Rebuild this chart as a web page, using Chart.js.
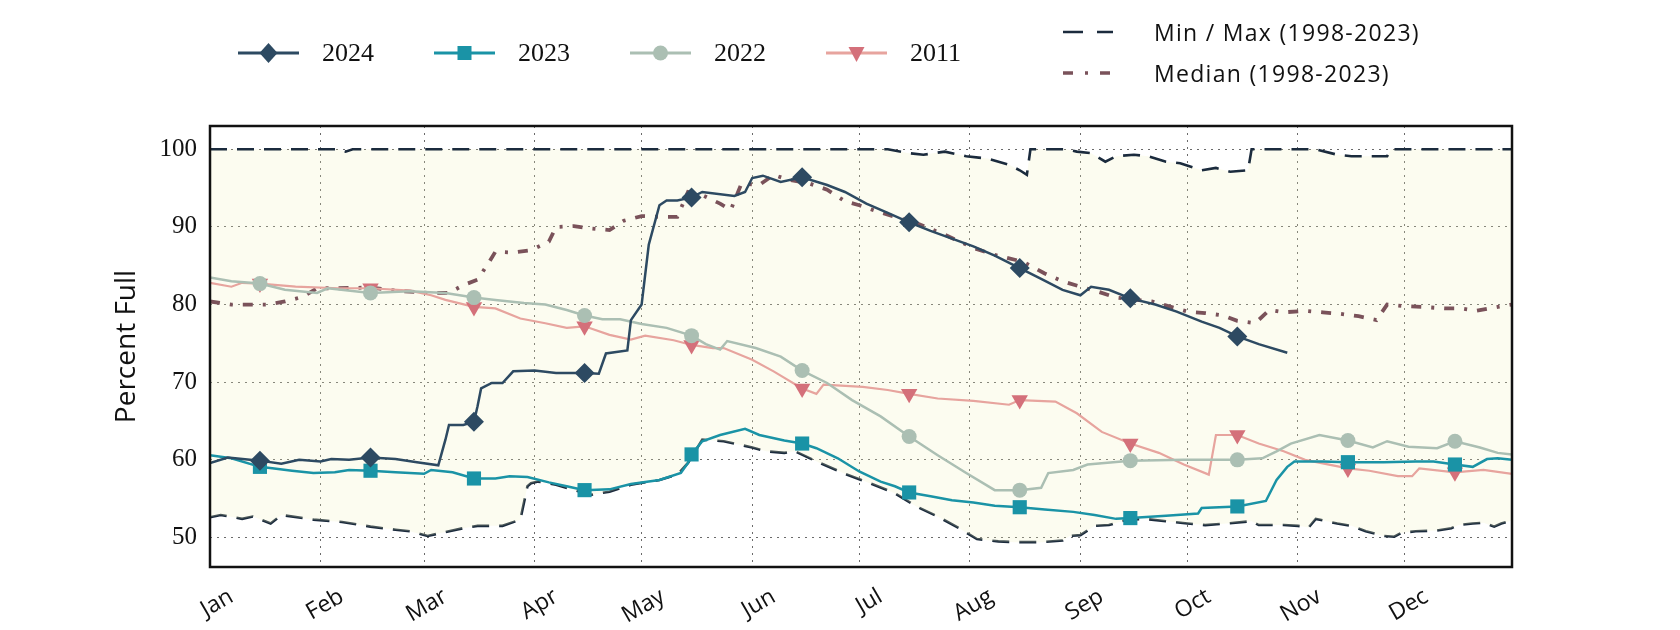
<!DOCTYPE html>
<html>
<head>
<meta charset="utf-8">
<title>Percent Full</title>
<script src="https://cdn.jsdelivr.net/npm/chart.js@4.4.1/dist/chart.umd.min.js"></script>
<style>
  html, body { margin: 0; padding: 0; background: #fff; }
  #wrap { position: relative; width: 1680px; height: 630px; overflow: hidden; }
  #chart { position: absolute; left: 0; top: 0; }
  .leg { position: absolute; display: flex; align-items: center; height: 30px; color: #111; white-space: nowrap; }
  .leg svg { display: block; flex: none; }
  .yr { font-family: "Liberation Serif", serif; font-size: 26px; margin-left: 23px; }
  .rng { font-family: "Open Sans", sans-serif; font-size: 23px; letter-spacing: 1.3px; margin-left: 41px; }
</style>
</head>
<body>
<div id="wrap">
  <canvas id="chart" width="1680" height="630"></canvas>
  <div id="legend"></div>
</div>
<script>
// x values are day of year (0 = Jan 1), y values are percent full
var monthNames = ['Jan', 'Feb', 'Mar', 'Apr', 'May', 'Jun', 'Jul', 'Aug', 'Sep', 'Oct', 'Nov', 'Dec'];
var monthStarts = [0, 31, 60, 91, 121, 152, 182, 213, 244, 274, 305, 335];
var yTicks = [50, 60, 70, 80, 90, 100];
var markerDays = [14, 45, 74, 105, 135, 166, 196, 227, 258, 288, 319, 349];

var days2024 = [0, 5, 14, 20, 25, 31, 34, 39, 45, 52, 58, 64, 66, 67, 71, 74, 75, 76, 79, 82, 85, 91, 97, 105, 109, 111, 117, 118, 121, 123, 126, 128, 131, 135, 138, 147, 150, 152, 155, 160, 166, 173, 178, 184, 190, 196, 202, 208, 214, 220, 227, 233, 239, 244, 247, 252, 258, 265, 271, 278, 283, 288, 294, 302];
var pct2024 = [59.6, 60.3, 59.9, 59.5, 60.0, 59.8, 60.1, 60.0, 60.3, 60.1, 59.7, 59.3, 62.6, 64.5, 64.5, 64.9, 66.9, 69.2, 69.9, 69.9, 71.4, 71.5, 71.2, 71.2, 71.1, 73.7, 74.1, 78.0, 80.0, 87.7, 92.8, 93.4, 93.4, 93.8, 94.5, 94.0, 94.5, 96.3, 96.6, 95.8, 96.4, 95.4, 94.5, 93.0, 91.8, 90.6, 89.5, 88.5, 87.5, 86.3, 84.7, 83.3, 81.9, 81.2, 82.3, 81.9, 80.8, 80.0, 79.1, 77.8, 77.0, 75.9, 74.9, 73.8];

var days2023 = [0, 6, 14, 18, 23, 29, 35, 39, 45, 52, 60, 62, 68, 74, 80, 84, 89, 95, 100, 105, 112, 118, 126, 132, 134, 135, 138, 143, 150, 154, 161, 166, 170, 176, 182, 188, 192, 196, 202, 208, 214, 220, 227, 234, 242, 248, 254, 258, 268, 277, 278, 288, 296, 299, 302, 304, 312, 319, 329, 338, 343, 349, 354, 358, 361, 365];
var pct2023 = [60.6, 60.2, 59.1, 58.9, 58.6, 58.3, 58.4, 58.7, 58.6, 58.4, 58.2, 58.7, 58.4, 57.6, 57.6, 57.9, 57.8, 57.1, 56.6, 56.1, 56.2, 56.9, 57.4, 58.3, 59.6, 60.7, 62.4, 63.2, 64.0, 63.2, 62.5, 62.1, 61.5, 60.2, 58.5, 57.2, 56.6, 55.8, 55.3, 54.8, 54.5, 54.1, 53.9, 53.6, 53.3, 52.9, 52.4, 52.5, 52.8, 53.1, 53.8, 54.0, 54.7, 57.4, 59.1, 59.8, 59.8, 59.7, 59.7, 59.8, 59.8, 59.4, 59.1, 60.1, 60.2, 60.0];

var days2022 = [0, 6, 14, 21, 30, 33, 45, 56, 66, 74, 80, 88, 94, 100, 105, 110, 115, 121, 128, 135, 139, 143, 145, 153, 160, 166, 173, 180, 188, 196, 204, 212, 220, 227, 233, 235, 242, 246, 258, 273, 288, 295, 299, 303, 311, 319, 326, 330, 336, 344, 349, 356, 361, 365];
var pct2022 = [83.5, 83.0, 82.7, 81.9, 81.5, 82.1, 81.5, 81.7, 81.5, 80.9, 80.6, 80.2, 80.0, 79.3, 78.6, 78.1, 78.1, 77.5, 77.0, 76.0, 74.9, 74.2, 75.3, 74.4, 73.3, 71.5, 69.9, 67.7, 65.6, 63.0, 60.6, 58.3, 56.1, 56.1, 56.4, 58.3, 58.7, 59.4, 59.9, 60.0, 60.0, 60.2, 61.1, 62.1, 63.2, 62.5, 61.6, 62.4, 61.7, 61.5, 62.4, 61.6, 60.9, 60.7];

var days2011 = [0, 6, 9, 14, 24, 36, 45, 56, 62, 66, 74, 80, 87, 94, 100, 105, 112, 118, 122, 130, 135, 141, 144, 152, 158, 166, 170, 172, 183, 190, 196, 204, 214, 224, 227, 237, 243, 250, 258, 266, 273, 280, 282, 288, 294, 301, 307, 319, 325, 333, 337, 339, 349, 357, 365];
var pct2011 = [82.8, 82.3, 82.8, 82.7, 82.3, 82.1, 82.1, 81.8, 81.2, 80.6, 79.7, 79.5, 78.2, 77.6, 77.0, 77.2, 76.1, 75.5, 76.0, 75.4, 74.8, 74.4, 74.4, 72.9, 71.4, 69.2, 68.5, 69.7, 69.4, 69.0, 68.5, 67.9, 67.6, 67.1, 67.7, 67.5, 66.0, 63.6, 62.1, 60.9, 59.4, 58.1, 63.2, 63.2, 62.1, 61.1, 60.0, 58.9, 58.6, 57.9, 57.9, 58.9, 58.4, 58.7, 58.2];

var daysMedian = [0, 6, 16, 21, 26, 30, 36, 45, 52, 61, 67, 71, 75, 78, 80, 85, 90, 95, 97, 102, 107, 112, 116, 121, 126, 131, 134, 138, 143, 146, 149, 154, 158, 162, 168, 173, 178, 182, 187, 192, 198, 206, 214, 220, 228, 234, 239, 244, 248, 254, 264, 274, 279, 284, 288, 293, 297, 301, 307, 312, 317, 322, 327, 330, 335, 340, 346, 351, 355, 361, 365];
var pctMedian = [80.4, 80.0, 80.0, 80.4, 81.0, 82.1, 82.1, 82.2, 81.8, 81.5, 81.5, 82.5, 83.2, 85.3, 86.8, 86.7, 87.0, 88.1, 90.0, 90.1, 89.8, 89.6, 90.8, 91.4, 91.3, 91.3, 94.5, 94.1, 93.0, 92.2, 95.6, 95.4, 96.7, 96.1, 95.6, 94.8, 93.3, 92.8, 92.0, 91.3, 90.5, 89.0, 87.3, 86.4, 85.5, 84.0, 83.0, 82.3, 81.8, 80.9, 80.4, 79.1, 78.9, 78.6, 77.9, 77.6, 79.3, 79.0, 79.2, 79.0, 78.8, 78.5, 78.0, 80.0, 79.8, 79.7, 79.5, 79.5, 79.2, 79.7, 80.0];

var daysMax = [0, 36, 38, 40, 190, 196, 200, 206, 212, 218, 224, 227, 229, 230, 240, 243, 247, 251, 254, 259, 263, 268, 272, 278, 282, 286, 291, 292, 310, 316, 320, 326, 330, 331, 365];
var pctMax = [100, 100, 99.7, 100, 100, 99.5, 99.3, 99.7, 99.1, 98.8, 98.0, 97.3, 96.7, 100, 100, 99.7, 99.5, 98.4, 99.1, 99.3, 99.1, 98.4, 98.2, 97.3, 97.6, 97.1, 97.3, 100, 100, 99.3, 99.1, 99.1, 99.1, 100, 100];

var daysMin = [0, 3, 9, 12, 17, 20, 29, 37, 45, 52, 56, 61, 65, 71, 75, 82, 87, 89, 90, 92, 97, 102, 107, 112, 118, 126, 131, 134, 138, 144, 152, 156, 161, 164, 171, 178, 185, 192, 198, 204, 210, 215, 221, 226, 233, 239, 241, 244, 248, 252, 257, 262, 268, 274, 279, 285, 292, 294, 301, 305, 308, 310, 316, 320, 324, 329, 332, 334, 338, 344, 348, 350, 354, 357, 360, 362, 365];
var pctMin = [52.6, 52.9, 52.4, 52.7, 51.8, 52.9, 52.3, 52.0, 51.4, 51.0, 50.8, 50.2, 50.6, 51.2, 51.5, 51.5, 52.3, 56.6, 57.0, 57.2, 56.8, 56.1, 55.5, 55.9, 56.8, 57.4, 58.1, 59.6, 62.6, 62.4, 61.6, 61.1, 60.9, 61.1, 59.6, 58.2, 57.0, 55.7, 54.0, 52.7, 51.2, 49.8, 49.5, 49.4, 49.4, 49.6, 50.2, 50.3, 51.5, 51.6, 52.3, 52.4, 52.1, 51.8, 51.6, 51.8, 52.1, 51.6, 51.6, 51.5, 51.3, 52.4, 51.8, 51.5, 50.8, 50.2, 50.1, 50.6, 50.8, 50.9, 51.2, 51.6, 51.8, 51.9, 51.4, 51.8, 52.2];

(function () {
  'use strict';

  var C2024 = '#2d4a62';
  var C2023 = '#1a93a6';
  var C2022 = '#abbfb3';
  var C2011 = '#d4707a';
  var C2011_LINE = '#e7a49e';
  var C_RANGE = '#1b2b3d';
  var C_MEDIAN = '#7a525a';
  var C_FILL = 'rgba(240, 240, 185, 0.22)';
  var GRID = '#6a6a6a';
  var LABEL_SHIFT = 6; // month labels sit centred under their tick

  function pts(days, vals) {
    return days.map(function (d, i) { return { x: d, y: vals[i] }; });
  }

  function markerAt(r) {
    return function (ctx) {
      return ctx.raw && markerDays.indexOf(ctx.raw.x) >= 0 ? r : 0;
    };
  }

  var years = [
    { label: '2024', days: days2024, vals: pct2024, line: C2024, mark: C2024, style: 'rectRot', r: 10, rot: 0, width: 2.5 },
    { label: '2023', days: days2023, vals: pct2023, line: C2023, mark: C2023, style: 'rect', r: 10, rot: 0, width: 2.5 },
    { label: '2022', days: days2022, vals: pct2022, line: C2022, mark: C2022, style: 'circle', r: 7.5, rot: 0, width: 2.5 },
    { label: '2011', days: days2011, vals: pct2011, line: C2011_LINE, mark: C2011, style: 'triangle', r: 9.5, rot: 180, width: 2.2 }
  ];

  var datasets = years.map(function (s) {
    return {
      label: s.label,
      data: pts(s.days, s.vals),
      xAxisID: 'x',
      borderColor: s.line,
      backgroundColor: s.mark,
      pointBackgroundColor: s.mark,
      borderWidth: s.width,
      pointStyle: s.style,
      pointRotation: s.rot,
      pointRadius: markerAt(s.r),
      pointBorderWidth: 0,
      fill: false
    };
  });

  datasets.push({
    label: 'Median (1998-2023)',
    data: pts(daysMedian, pctMedian),
    xAxisID: 'x',
    borderColor: C_MEDIAN,
    borderWidth: 3.8,
    borderDash: [10, 10, 3, 10],
    pointRadius: 0,
    fill: false
  });
  datasets.push({
    label: 'Max (1998-2023)',
    data: pts(daysMax, pctMax),
    xAxisID: 'x',
    borderColor: C_RANGE,
    backgroundColor: C_FILL,
    borderWidth: 2.6,
    borderDash: [17, 10],
    pointRadius: 0,
    fill: '+1'
  });
  datasets.push({
    label: 'Min (1998-2023)',
    data: pts(daysMin, pctMin),
    xAxisID: 'x',
    borderColor: C_RANGE,
    borderWidth: 2.6,
    borderDash: [17, 10],
    pointRadius: 0,
    fill: false
  });

  var frame = {
    id: 'frame',
    afterDraw: function (chart) {
      var a = chart.chartArea, ctx = chart.ctx;
      ctx.save();
      ctx.strokeStyle = '#111';
      ctx.lineWidth = 2.5;
      ctx.strokeRect(a.left, a.top, a.right - a.left, a.bottom - a.top);
      ctx.restore();
    }
  };

  new Chart(document.getElementById('chart'), {
    type: 'line',
    data: { datasets: datasets },
    plugins: [frame],
    options: {
      responsive: false,
      animation: false,
      devicePixelRatio: 1,
      events: [],
      layout: { padding: { top: 126, right: 168, left: 0, bottom: 0 } },
      elements: { line: { tension: 0 } },
      plugins: { legend: { display: false }, tooltip: { enabled: false } },
      scales: {
        x: {
          type: 'linear', min: 0, max: 365,
          afterBuildTicks: function (s) { s.ticks = monthStarts.map(function (v) { return { value: v }; }); },
          ticks: { display: false },
          grid: { color: GRID, lineWidth: 1, drawTicks: false },
          border: { display: false, dash: [2, 5] },
          afterFit: function (s) { s.height = 0; }
        },
        xl: {
          type: 'linear', position: 'bottom', min: 0, max: 365,
          afterBuildTicks: function (s) { s.ticks = monthStarts.map(function (v) { return { value: v + LABEL_SHIFT }; }); },
          grid: { display: false, drawTicks: false },
          border: { display: false },
          ticks: {
            autoSkip: false, minRotation: 30, maxRotation: 30, padding: 16,
            color: '#111', font: { family: 'Open Sans', size: 23 },
            callback: function (v, i) { return monthNames[i]; }
          },
          afterFit: function (s) { s.height = 63; }
        },
        y: {
          min: 46.2, max: 103,
          afterBuildTicks: function (s) { s.ticks = yTicks.map(function (v) { return { value: v }; }); },
          grid: { color: GRID, lineWidth: 1, drawTicks: false },
          border: { display: false, dash: [2, 5] },
          ticks: { padding: 13, color: '#111', font: { family: 'Liberation Serif', size: 25 } },
          title: {
            display: true, text: 'Percent Full', color: '#111',
            font: { family: 'Open Sans', size: 28 },
            padding: { top: 110, bottom: 0 }
          },
          afterFit: function (s) { s.width = 210; }
        }
      }
    }
  });

  // legend (html, so the labels stay real text)
  var NS = 'http://www.w3.org/2000/svg';
  var legend = document.getElementById('legend');

  function svgEl(tag, attrs) {
    var el = document.createElementNS(NS, tag);
    Object.keys(attrs).forEach(function (k) { el.setAttribute(k, attrs[k]); });
    return el;
  }

  function markerShape(s, cx, cy) {
    if (s.style === 'rectRot') return svgEl('polygon', { points: (cx) + ',' + (cy - 10) + ' ' + (cx + 9) + ',' + cy + ' ' + cx + ',' + (cy + 10) + ' ' + (cx - 9) + ',' + cy, fill: s.mark });
    if (s.style === 'rect') return svgEl('rect', { x: cx - 7, y: cy - 7, width: 14, height: 14, fill: s.mark });
    if (s.style === 'circle') return svgEl('circle', { cx: cx, cy: cy, r: 7.5, fill: s.mark });
    return svgEl('polygon', { points: (cx - 8) + ',' + (cy - 6) + ' ' + (cx + 8) + ',' + (cy - 6) + ' ' + cx + ',' + (cy + 9), fill: s.mark });
  }

  years.forEach(function (s, i) {
    var item = document.createElement('div');
    item.className = 'leg';
    item.style.left = (238 + 196 * i) + 'px';
    item.style.top = '38px';
    var svg = svgEl('svg', { width: 61, height: 24 });
    svg.appendChild(svgEl('line', { x1: 0, y1: 12, x2: 61, y2: 12, stroke: s.line, 'stroke-width': 3 }));
    svg.appendChild(markerShape(s, 30.5, 12));
    item.appendChild(svg);
    var t = document.createElement('span');
    t.className = 'yr';
    t.textContent = s.label;
    item.appendChild(t);
    legend.appendChild(item);
  });

  var ranges = [
    { label: 'Min / Max (1998-2023)', color: C_RANGE, width: 2.5, dash: '20 14', top: 17 },
    { label: 'Median (1998-2023)', color: C_MEDIAN, width: 3.5, dash: '10 12 3 12', top: 58 }
  ];
  ranges.forEach(function (r) {
    var item = document.createElement('div');
    item.className = 'leg';
    item.style.left = '1063px';
    item.style.top = r.top + 'px';
    var svg = svgEl('svg', { width: 50, height: 10 });
    svg.appendChild(svgEl('line', { x1: 0, y1: 5, x2: 50, y2: 5, stroke: r.color, 'stroke-width': r.width, 'stroke-dasharray': r.dash }));
    item.appendChild(svg);
    var t = document.createElement('span');
    t.className = 'rng';
    t.textContent = r.label;
    item.appendChild(t);
    legend.appendChild(item);
  });
})();
</script>
</body>
</html>
